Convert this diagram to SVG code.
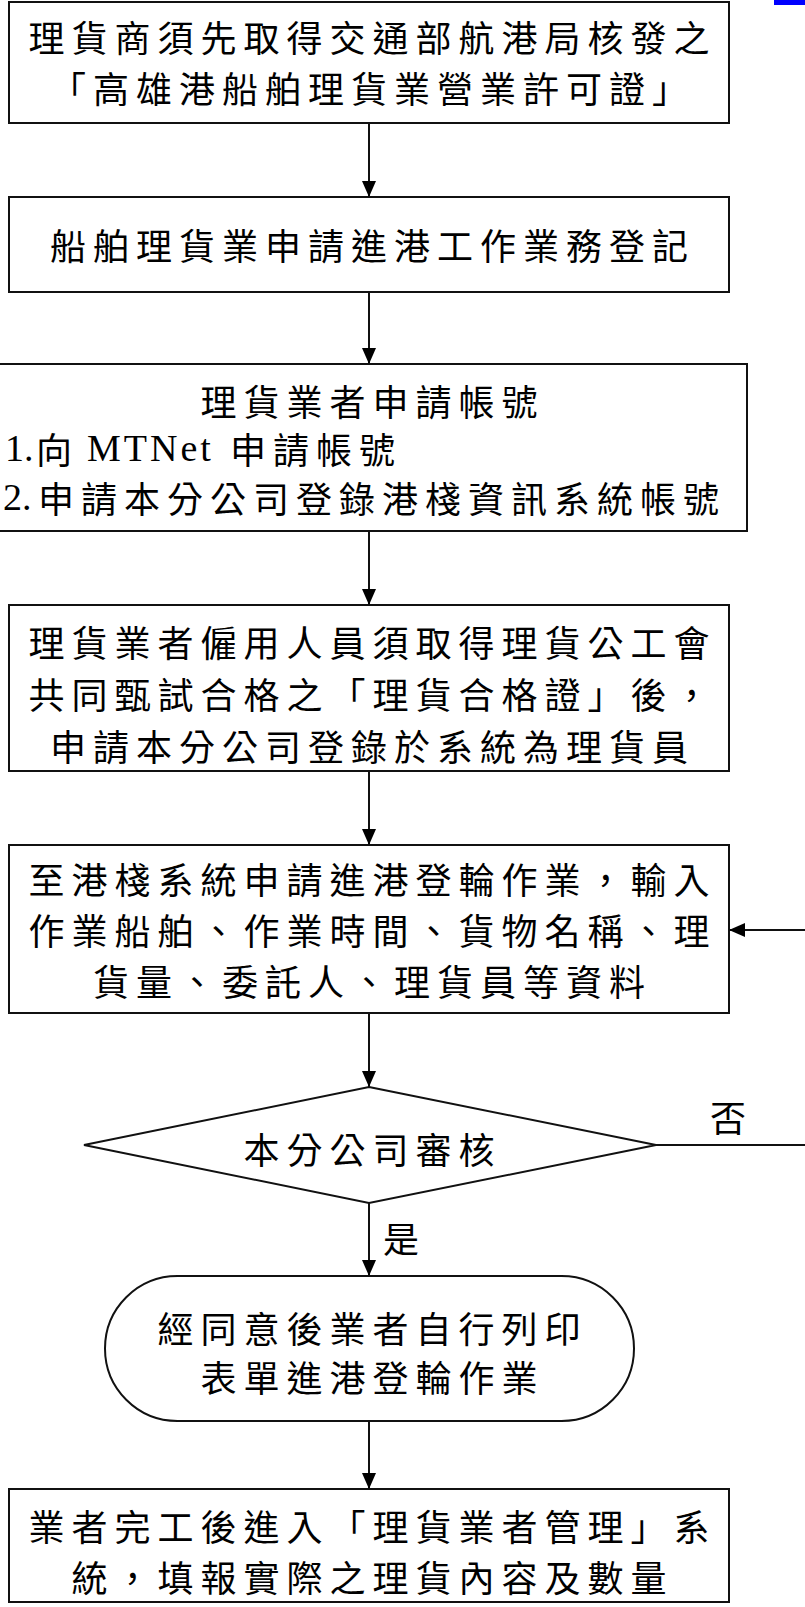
<svg xmlns="http://www.w3.org/2000/svg" width="805" height="1607" viewBox="0 0 805 1607">
<defs>
<style>
.box{fill:#fff;stroke:#111;stroke-width:2}
.t{font-family:"Noto Sans CJK TC","Noto Sans CJK SC",sans-serif;font-size:36px;letter-spacing:7px;fill:#000;dominant-baseline:central}
.lat{font-family:"Liberation Serif",serif;font-size:38px;fill:#000;dominant-baseline:central}
.c{fill:none;stroke:#111;stroke-width:2}
</style>
<marker id="ah" markerUnits="userSpaceOnUse" markerWidth="16" markerHeight="14" refX="16" refY="7" orient="auto">
<path d="M0,0 L16,7 L0,14 z" fill="#000"/>
</marker>
</defs>
<rect width="805" height="1607" fill="#fff"/>
<rect x="774" y="0" width="31" height="5" fill="#0000ff"/>

<g id="n1">
<rect class="box" x="9" y="2" width="720" height="121"/>
<text class="t" x="28.5" y="36">理貨商須先取得交通部航港局核發之</text>
<text class="t" x="50" y="87">「高雄港船舶理貨業營業許可證」</text>
</g>

<g id="n2">
<rect class="box" x="9" y="197" width="720" height="95"/>
<text class="t" x="50" y="244">船舶理貨業申請進港工作業務登記</text>
</g>

<g id="n3">
<rect class="box" x="-10" y="364" width="757" height="167"/>
<text class="t" x="200.5" y="400">理貨業者申請帳號</text>
<text class="lat" x="5" y="448">1.</text>
<text class="t" x="36" y="448">向</text>
<text class="lat" x="87" y="448" letter-spacing="3">MTNet</text>
<text class="t" x="230" y="448">申請帳號</text>
<text class="lat" x="3" y="497">2.</text>
<text class="t" x="38" y="497">申請本分公司登錄港棧資訊系統帳號</text>
</g>

<g id="n4">
<rect class="box" x="9" y="605" width="720" height="166"/>
<text class="t" x="28.5" y="641">理貨業者僱用人員須取得理貨公工會</text>
<text class="t" x="28.5" y="693">共同甄試合格之「理貨合格證」後，</text>
<text class="t" x="50" y="745">申請本分公司登錄於系統為理貨員</text>
</g>

<g id="n5">
<rect class="box" x="9" y="845" width="720" height="168"/>
<text class="t" x="28.5" y="878">至港棧系統申請進港登輪作業，輸入</text>
<text class="t" x="28.5" y="929">作業船舶、作業時間、貨物名稱、理</text>
<text class="t" x="93" y="980">貨量、委託人、理貨員等資料</text>
</g>

<g id="n6">
<polygon class="box" points="369,1087 656,1145 369,1203 84,1145"/>
<text class="t" x="243.5" y="1148">本分公司審核</text>
</g>

<g id="n7">
<rect class="box" x="105" y="1276" width="529" height="145" rx="72.5" ry="72.5"/>
<text class="t" x="157.5" y="1327">經同意後業者自行列印</text>
<text class="t" x="200.5" y="1376">表單進港登輪作業</text>
</g>

<g id="n8">
<rect class="box" x="9" y="1489" width="720" height="113"/>
<text class="t" x="28.5" y="1525">業者完工後進入「理貨業者管理」系</text>
<text class="t" x="71.5" y="1576">統，填報實際之理貨內容及數量</text>
</g>

<g id="connectors">
<path class="c" d="M369,123 V197" marker-end="url(#ah)"/>
<path class="c" d="M369,292 V364" marker-end="url(#ah)"/>
<path class="c" d="M369,531 V605" marker-end="url(#ah)"/>
<path class="c" d="M369,771 V845" marker-end="url(#ah)"/>
<path class="c" d="M369,1013 V1087" marker-end="url(#ah)"/>
<path class="c" d="M369,1203 V1276" marker-end="url(#ah)"/>
<path class="c" d="M369,1421 V1489" marker-end="url(#ah)"/>
<path class="c" d="M806,930 H729" marker-end="url(#ah)"/>
<path class="c" d="M656,1145 H806"/>
<text class="t" x="710" y="1116">否</text>
<text class="t" x="383" y="1237">是</text>
</g>
</svg>
